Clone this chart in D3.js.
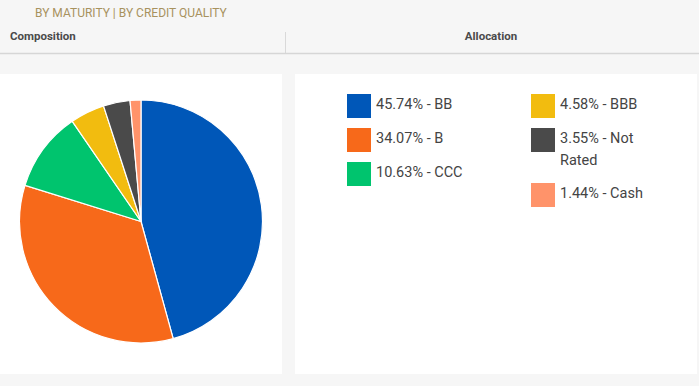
<!DOCTYPE html>
<html>
<head>
<meta charset="utf-8">
<script src="https://cdn.jsdelivr.net/npm/d3@7"></script>
<style>
  body { margin: 0; background: #f6f6f6; font-family: Roboto, "Open Sans", sans-serif; }
</style>
</head>
<body>
<script>
// credit quality breakdown
const categories = ["BB", "B", "CCC", "BBB", "Not Rated", "Cash"];
const values = [45.74, 34.07, 10.63, 4.58, 3.55, 1.44];
const colors = ["#0057b8", "#f7691a", "#00c46e", "#f2bc0f", "#4a4a4a", "#ff936a"];
const tabs = ["BY MATURITY |", "BY CREDIT QUALITY"];
const headers = ["Composition", "Allocation"];

const W = 699, H = 386;

const svg = d3.select("body").append("svg")
    .attr("width", W).attr("height", H)
    .style("display", "block");

svg.append("rect").attr("width", W).attr("height", H).attr("fill", "#f6f6f6");

// tab titles
svg.append("text")
    .attr("x", 35).attr("y", 17)
    .attr("font-size", 12).attr("fill", "#a8925e")
    .text(tabs[0] + "  " + tabs[1]);

// header row
svg.append("text").attr("x", 10).attr("y", 40)
    .attr("font-size", 11.5).attr("font-weight", "bold").attr("fill", "#4a4a4a")
    .text(headers[0]);
svg.append("text").attr("x", 491).attr("y", 40).attr("text-anchor", "middle")
    .attr("font-size", 11.5).attr("font-weight", "bold").attr("fill", "#4a4a4a")
    .text(headers[1]);
svg.append("line").attr("x1", 285.5).attr("x2", 285.5).attr("y1", 32).attr("y2", 53)
    .attr("stroke", "#d9d9d9");
svg.append("line").attr("x1", 0).attr("x2", W).attr("y1", 53.5).attr("y2", 53.5)
    .attr("stroke", "#d6d6d6").attr("stroke-width", 1.5);

// white panels
svg.append("rect").attr("x", 0).attr("y", 74).attr("width", 282).attr("height", 300).attr("fill", "#fff");
svg.append("rect").attr("x", 295).attr("y", 74).attr("width", 402).attr("height", 300).attr("fill", "#fff");

// pie
const data = categories.map((c, i) => ({ name: c, value: values[i], color: colors[i] }));
const pie = d3.pie().value(d => d.value).sort(null);
const arc = d3.arc().innerRadius(0).outerRadius(121.5);

svg.append("g")
    .attr("transform", "translate(141,221.5)")
    .selectAll("path")
    .data(pie(data))
    .enter()
    .append("path")
    .attr("d", arc)
    .attr("fill", d => d.data.color)
    .attr("stroke", "#fff")
    .attr("stroke-width", 1.2);

// legend, two columns of three
const legend = svg.append("g");
const colX = [347, 531];
const rowY = [[94, 128, 162], [94, 128, 183]];

function wrap(textSel, maxW) {
    textSel.each(function() {
        const t = d3.select(this);
        const words = t.text().split(" ");
        t.text(null);
        let line = [];
        let tspan = t.append("tspan").attr("x", t.attr("x"));
        words.forEach(function(w) {
            line.push(w);
            tspan.text(line.join(" "));
            if (tspan.node().getComputedTextLength() > maxW && line.length > 1) {
                line.pop();
                tspan.text(line.join(" "));
                line = [w];
                tspan = t.append("tspan").attr("x", t.attr("x")).attr("dy", 22).text(w);
            }
        });
    });
}

data.forEach(function(d, i) {
    const col = Math.floor(i / 3), row = i % 3;
    const x = colX[col], y = rowY[col][row];
    legend.append("rect")
        .attr("x", x).attr("y", y).attr("width", 24).attr("height", 24)
        .attr("fill", d.color);
    legend.append("text")
        .attr("x", x + 29).attr("y", y + 15)
        .attr("font-size", 14.5).attr("fill", "#444")
        .text(d.value.toFixed(2) + "% - " + d.name)
        .call(wrap, 92);
});
</script>
</body>
</html>
